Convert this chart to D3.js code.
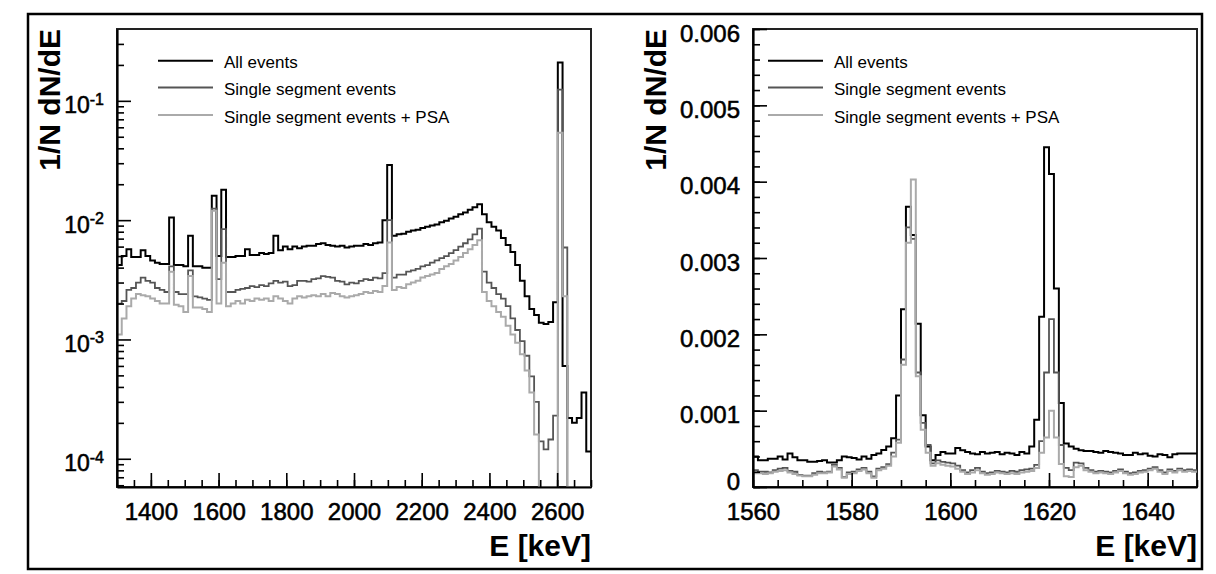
<!DOCTYPE html>
<html>
<head>
<meta charset="utf-8">
<script src="https://cdn.jsdelivr.net/npm/d3@7"></script>
<style>
body { margin: 0; background: #fff; }
svg text { font-family: "Liberation Sans", Arial, Helvetica, sans-serif; fill: #000; }
</style>
</head>
<body>
<script>
// ---- left panel: 100 bins of 14 keV from 1300 keV (log scale) ----
var leftBinStart = 1300, leftBinWidth = 14;
var allLeft = [
  4.2e-3, 5.0e-3, 5.7e-3, 4.9e-3, 4.9e-3, 5.6e-3, 5.0e-3, 4.6e-3, 4.4e-3, 4.3e-3,
  4.3e-3, 1.05e-2, 4.2e-3, 4.2e-3, 4.1e-3, 7.4e-3, 4.1e-3, 4.1e-3, 4.0e-3, 4.0e-3,
  1.6e-2, 5.0e-3, 1.8e-2, 4.9e-3, 4.9e-3, 5.0e-3, 5.0e-3, 5.7e-3, 5.1e-3, 5.1e-3,
  5.3e-3, 5.2e-3, 5.3e-3, 7.4e-3, 5.6e-3, 6.0e-3, 5.7e-3, 6.0e-3, 5.8e-3, 6.0e-3,
  6.1e-3, 6.1e-3, 6.3e-3, 6.4e-3, 6.2e-3, 6.1e-3, 6.0e-3, 6.1e-3, 5.9e-3, 6.0e-3,
  6.1e-3, 6.1e-3, 6.3e-3, 6.2e-3, 6.4e-3, 6.5e-3, 1.0e-2, 2.9e-2, 7.4e-3, 7.6e-3,
  7.7e-3, 8.0e-3, 8.2e-3, 8.3e-3, 8.6e-3, 8.8e-3, 9.0e-3, 9.2e-3, 9.6e-3, 9.9e-3,
  1.03e-2, 1.07e-2, 1.12e-2, 1.16e-2, 1.22e-2, 1.28e-2, 1.36e-2, 1.12e-2, 9.6e-3, 8.8e-3,
  8.2e-3, 7.1e-3, 6.2e-3, 5.4e-3, 4.2e-3, 3.1e-3, 2.3e-3, 1.8e-3, 1.6e-3, 1.38e-3,
  1.35e-3, 1.4e-3, 2.05e-3, 0.21, 6.0e-4, 2.2e-4, 2.0e-4, 2.2e-4, 3.6e-4, 1.15e-4
];
var singleLeft = [
  2.0e-3, 2.1e-3, 2.6e-3, 2.7e-3, 3.0e-3, 3.3e-3, 3.1e-3, 3.0e-3, 2.7e-3, 2.6e-3,
  2.5e-3, 4.1e-3, 2.5e-3, 2.4e-3, 2.4e-3, 3.8e-3, 2.3e-3, 2.25e-3, 2.2e-3, 2.15e-3,
  1.25e-2, 3.2e-3, 8.4e-3, 2.5e-3, 2.5e-3, 2.6e-3, 2.65e-3, 2.7e-3, 2.8e-3, 2.75e-3,
  2.85e-3, 2.8e-3, 2.95e-3, 3.1e-3, 3.0e-3, 3.05e-3, 2.8e-3, 2.85e-3, 3.1e-3, 3.1e-3,
  3.05e-3, 3.2e-3, 3.25e-3, 3.4e-3, 3.35e-3, 3.3e-3, 3.1e-3, 3.05e-3, 2.9e-3, 3.0e-3,
  2.95e-3, 3.1e-3, 3.2e-3, 3.15e-3, 3.3e-3, 3.25e-3, 3.6e-3, 1.0e-2, 3.3e-3, 3.5e-3,
  3.5e-3, 3.7e-3, 3.8e-3, 3.9e-3, 4.1e-3, 4.2e-3, 4.4e-3, 4.6e-3, 4.8e-3, 5.0e-3,
  5.3e-3, 5.6e-3, 6.0e-3, 6.4e-3, 6.9e-3, 7.6e-3, 8.5e-3, 3.7e-3, 3.0e-3, 2.7e-3,
  2.4e-3, 2.2e-3, 1.9e-3, 1.5e-3, 1.2e-3, 9.7e-4, 7.3e-4, 4.9e-4, 3.0e-4, 1.4e-4,
  1.2e-4, 1.45e-4, 2.3e-4, 0.124, 5.9e-3, 0, 0, 0, 0, 0
];
var psaLeft = [
  1.1e-3, 1.5e-3, 1.9e-3, 2.2e-3, 2.4e-3, 2.35e-3, 2.3e-3, 2.2e-3, 2.1e-3, 2.0e-3,
  2.0e-3, 3.7e-3, 1.95e-3, 1.9e-3, 1.7e-3, 3.4e-3, 1.85e-3, 1.85e-3, 1.8e-3, 1.7e-3,
  1.2e-2, 2.0e-3, 4.4e-3, 1.9e-3, 2.0e-3, 2.1e-3, 2.0e-3, 2.15e-3, 2.1e-3, 2.2e-3,
  2.15e-3, 2.2e-3, 2.1e-3, 2.3e-3, 2.2e-3, 2.1e-3, 2.0e-3, 2.2e-3, 2.3e-3, 2.25e-3,
  2.3e-3, 2.35e-3, 2.3e-3, 2.4e-3, 2.3e-3, 2.45e-3, 2.4e-3, 2.3e-3, 2.25e-3, 2.3e-3,
  2.35e-3, 2.4e-3, 2.5e-3, 2.45e-3, 2.55e-3, 2.5e-3, 2.8e-3, 6.5e-3, 2.6e-3, 2.75e-3,
  2.7e-3, 2.9e-3, 3.0e-3, 3.1e-3, 3.3e-3, 3.4e-3, 3.5e-3, 3.6e-3, 3.9e-3, 4.1e-3,
  4.3e-3, 4.6e-3, 4.9e-3, 5.3e-3, 5.7e-3, 6.2e-3, 6.8e-3, 2.5e-3, 2.1e-3, 1.9e-3,
  1.7e-3, 1.55e-3, 1.3e-3, 1.1e-3, 9.4e-4, 7.5e-4, 5.5e-4, 3.6e-4, 1.6e-4, 0,
  0, 0, 0, 0.054, 2.3e-3, 0, 0, 0, 0, 0
];

// ---- right panel: 90 bins of 1 keV from 1560 keV (linear scale) ----
var rightBinStart = 1560, rightBinWidth = 1;
var allRight = [
  4.0e-4, 3.5e-4, 3.5e-4, 3.7e-4, 3.7e-4, 4.0e-4, 3.6e-4, 4.4e-4, 3.9e-4, 3.5e-4,
  3.5e-4, 3.3e-4, 3.3e-4, 3.4e-4, 3.5e-4, 3.2e-4, 3.2e-4, 3.5e-4, 4.0e-4, 3.9e-4,
  3.8e-4, 3.6e-4, 4.0e-4, 3.7e-4, 4.2e-4, 4.4e-4, 4.85e-4, 5.3e-4, 6.4e-4, 1.2e-3,
  2.33e-3, 3.67e-3, 3.3e-3, 2.14e-3, 9.4e-4, 5.3e-4, 3.5e-4, 4.2e-4, 4.6e-4, 4.4e-4,
  4.4e-4, 5.1e-4, 4.8e-4, 4.6e-4, 4.4e-4, 4.3e-4, 4.6e-4, 4.4e-4, 4.5e-4, 4.6e-4,
  4.3e-4, 4.5e-4, 4.4e-4, 4.2e-4, 4.6e-4, 4.4e-4, 5.3e-4, 8.8e-4, 2.23e-3, 4.45e-3,
  4.1e-3, 2.6e-3, 1.1e-3, 5.7e-4, 5.3e-4, 5.0e-4, 4.8e-4, 4.7e-4, 4.7e-4, 4.6e-4,
  4.5e-4, 4.7e-4, 4.6e-4, 4.5e-4, 4.4e-4, 4.2e-4, 4.2e-4, 4.5e-4, 4.3e-4, 4.4e-4,
  4.1e-4, 4.0e-4, 4.3e-4, 4.2e-4, 3.9e-4, 4.3e-4, 4.4e-4, 4.4e-4, 4.4e-4, 4.4e-4
];
var singleRight = [
  2.2e-4, 2.0e-4, 2.0e-4, 1.9e-4, 2.2e-4, 2.4e-4, 2.5e-4, 2.1e-4, 2.0e-4, 1.6e-4,
  1.5e-4, 1.5e-4, 1.8e-4, 2.0e-4, 1.9e-4, 2.0e-4, 2.9e-4, 2.5e-4, 1.3e-4, 1.9e-4,
  2.0e-4, 2.3e-4, 2.5e-4, 2.0e-4, 1.4e-4, 2.4e-4, 2.6e-4, 3.0e-4, 4.5e-4, 6.2e-4,
  1.67e-3, 3.4e-3, 3.25e-3, 1.5e-3, 8.4e-4, 5.5e-4, 3.1e-4, 3.5e-4, 3.3e-4, 3.2e-4,
  3.1e-4, 2.8e-4, 2.2e-4, 1.9e-4, 2.2e-4, 2.5e-4, 2.0e-4, 1.8e-4, 1.9e-4, 2.1e-4,
  2.0e-4, 1.9e-4, 2.1e-4, 2.0e-4, 2.2e-4, 2.3e-4, 2.4e-4, 2.9e-4, 6.0e-4, 1.5e-3,
  2.2e-3, 1.5e-3, 5.5e-4, 2.5e-4, 2.2e-4, 3.2e-4, 3.1e-4, 2.5e-4, 2.2e-4, 2.0e-4,
  2.1e-4, 2.0e-4, 1.9e-4, 2.1e-4, 2.3e-4, 2.0e-4, 1.8e-4, 1.9e-4, 2.1e-4, 2.2e-4,
  2.4e-4, 2.6e-4, 2.2e-4, 1.9e-4, 2.3e-4, 2.1e-4, 2.4e-4, 2.2e-4, 2.3e-4, 2.2e-4
];
var psaRight = [
  1.8e-4, 1.8e-4, 1.7e-4, 1.8e-4, 2.0e-4, 2.1e-4, 2.2e-4, 1.9e-4, 1.7e-4, 1.5e-4,
  1.4e-4, 1.4e-4, 1.6e-4, 1.8e-4, 1.8e-4, 1.9e-4, 2.7e-4, 2.3e-4, 1.2e-4, 1.7e-4,
  1.8e-4, 2.1e-4, 2.3e-4, 1.8e-4, 1.2e-4, 2.2e-4, 2.4e-4, 2.8e-4, 4.0e-4, 5.8e-4,
  1.6e-3, 3.2e-3, 4.03e-3, 1.45e-3, 7.5e-4, 4.5e-4, 2.8e-4, 3.1e-4, 2.9e-4, 2.8e-4,
  2.7e-4, 2.4e-4, 2.0e-4, 1.7e-4, 1.9e-4, 2.2e-4, 1.8e-4, 1.6e-4, 1.7e-4, 1.9e-4,
  1.8e-4, 1.7e-4, 1.8e-4, 1.7e-4, 1.9e-4, 2.0e-4, 2.1e-4, 2.5e-4, 4.5e-4, 6.5e-4,
  1.0e-3, 6.5e-4, 3.0e-4, 1.4e-4, 1.3e-4, 2.6e-4, 2.8e-4, 2.2e-4, 2.0e-4, 1.8e-4,
  1.9e-4, 1.8e-4, 1.7e-4, 1.9e-4, 2.1e-4, 1.8e-4, 1.6e-4, 1.7e-4, 1.9e-4, 2.0e-4,
  2.2e-4, 2.4e-4, 2.0e-4, 1.7e-4, 2.1e-4, 1.9e-4, 2.2e-4, 2.0e-4, 2.1e-4, 2.0e-4
];

var legendLabels = ["All events", "Single segment events", "Single segment events + PSA"];
var seriesColors = ["#000000", "#555555", "#aaaaaa"];
var seriesWidths = [2, 1.8, 2];

var leftXTicks = [1400, 1600, 1800, 2000, 2200, 2400, 2600];
var leftYTicks = [1e-4, 1e-3, 1e-2, 1e-1];
var leftYExponents = ["-4", "-3", "-2", "-1"];
var rightXTicks = [1560, 1580, 1600, 1620, 1640];
var rightYTicks = [0, 0.001, 0.002, 0.003, 0.004, 0.005, 0.006];
var rightYLabels = ["0", "0.001", "0.002", "0.003", "0.004", "0.005", "0.006"];

var width = 1216, height = 574;
var svg = d3.select("body").append("svg")
    .attr("width", width)
    .attr("height", height);

// outer border
svg.append("rect")
    .attr("x", 28).attr("y", 14)
    .attr("width", 1174).attr("height", 555)
    .attr("fill", "none").attr("stroke", "#000").attr("stroke-width", 2.5);

function stepPoints(values, start, w) {
    var pts = values.map(function(v, i) { return {e: start + i * w, v: v}; });
    pts.push({e: start + values.length * w, v: values[values.length - 1]});
    return pts;
}

// tick labels look heavier than plain Arial in the scan
function heavy(sel) {
    sel.attr("stroke", "#000").attr("stroke-width", 0.55);
}

function drawPanel(p) {
    var g = svg.append("g");

    g.append("clipPath").attr("id", p.id + "_clip")
        .append("rect")
        .attr("x", p.left).attr("y", p.top - 1)
        .attr("width", p.right - p.left).attr("height", p.bottom - p.top + 1);

    // frame
    g.append("rect")
        .attr("x", p.left).attr("y", p.top)
        .attr("width", p.right - p.left).attr("height", p.bottom - p.top)
        .attr("fill", "none").attr("stroke", "#222").attr("stroke-width", 2);

    // histograms
    var line = d3.line()
        .curve(d3.curveStepAfter)
        .x(function(d) { return p.x(d.e); })
        .y(function(d) { return p.yv(d.v); });

    var plot = g.append("g").attr("clip-path", "url(#" + p.id + "_clip)");
    p.series.forEach(function(s, i) {
        plot.append("path")
            .datum(stepPoints(s, p.binStart, p.binWidth))
            .attr("d", line)
            .attr("fill", "none")
            .attr("stroke", seriesColors[i])
            .attr("stroke-width", seriesWidths[i])
            .attr("stroke-linejoin", "miter");
    });

    // x axis: minor then major ticks, pointing inward
    g.append("g")
        .attr("transform", "translate(0," + p.bottom + ")")
        .call(d3.axisBottom(p.x).tickValues(p.xMinor).tickSize(-7).tickSizeOuter(0).tickFormat(""))
        .call(function(a) { a.select(".domain").remove(); });
    var xa = g.append("g")
        .attr("transform", "translate(0," + p.bottom + ")")
        .call(d3.axisBottom(p.x).tickValues(p.xTicks).tickSize(-14).tickSizeOuter(0)
            .tickPadding(16).tickFormat(d3.format("d")));
    xa.selectAll("text").attr("font-size", 24).attr("font-family", null).call(heavy);

    // y axis
    g.append("g")
        .attr("transform", "translate(" + p.left + ",0)")
        .call(d3.axisLeft(p.y).tickValues(p.yMinor).tickSize(-7).tickSizeOuter(0).tickFormat(""))
        .call(function(a) { a.select(".domain").remove(); });
    var ya = g.append("g")
        .attr("transform", "translate(" + p.left + ",0)")
        .call(d3.axisLeft(p.y).tickValues(p.yTicks).tickSize(-14).tickSizeOuter(0)
            .tickPadding(13).tickFormat(p.yFormat ? p.yFormat : ""));
    ya.selectAll("text").attr("font-size", 24).attr("font-family", null)
        .attr("dy", function(d) { return d === 0 ? "0.1em" : "0.5em"; })
        .call(heavy);

    g.selectAll(".tick line").attr("stroke", "#000").attr("stroke-width", 1.6);
    g.selectAll(".domain").attr("stroke", "#000").attr("stroke-width", 2.2);

    // axis titles
    g.append("text")
        .attr("x", p.right).attr("y", 556)
        .attr("text-anchor", "end")
        .attr("font-size", 30).attr("font-weight", "bold")
        .text("E [keV]");
    g.append("text")
        .attr("transform", "translate(" + p.titleX + "," + p.top + ") rotate(-90)")
        .attr("text-anchor", "end")
        .attr("font-size", 30).attr("font-weight", "bold")
        .text("1/N dN/dE");

    // legend
    legendLabels.forEach(function(lab, i) {
        var ly = [60.7, 87.5, 115][i];
        g.append("line")
            .attr("x1", p.legendX).attr("x2", p.legendX + 55)
            .attr("y1", ly).attr("y2", ly)
            .attr("stroke", seriesColors[i]).attr("stroke-width", 2);
        g.append("text")
            .attr("x", p.legendX + 66).attr("y", ly + 7.5)
            .attr("font-size", 17)
            .text(lab);
    });
    return g;
}

// ---- left panel ----
var xL = d3.scaleLinear().domain([1300, 2700]).range([117, 591]);
var yL = d3.scaleLog().domain([5.8e-5, 0.4]).range([487, 29]).clamp(true);
var leftMinorY = [];
[-5, -4, -3, -2, -1].forEach(function(e) {
    for (var m = 2; m <= 9; m++) {
        var v = m * Math.pow(10, e);
        if (v > 5.8e-5 && v < 0.4) leftMinorY.push(v);
    }
});
var gl = drawPanel({
    id: "left", left: 117, right: 591, top: 29, bottom: 487,
    x: xL, y: yL,
    yv: function(v) { return yL(Math.max(v, 1e-7)); },
    series: [allLeft, singleLeft, psaLeft],
    binStart: leftBinStart, binWidth: leftBinWidth,
    xTicks: leftXTicks, xMinor: d3.range(1300, 2701, 50),
    yTicks: leftYTicks, yMinor: leftMinorY, yFormat: null,
    titleX: 60, legendX: 158
});
// log labels with superscript exponents
leftYTicks.forEach(function(v, i) {
    var t = gl.append("text")
        .attr("x", 104).attr("y", yL(v) + 12.6)
        .attr("text-anchor", "end")
        .call(heavy);
    t.append("tspan").attr("font-size", 23).text("10");
    t.append("tspan").attr("font-size", 16).attr("dy", -8.6).text(leftYExponents[i]);
});

// ---- right panel ----
var xR = d3.scaleLinear().domain([1560, 1650]).range([753, 1197]);
var yR = d3.scaleLinear().domain([0, 0.006]).range([487, 29]);
drawPanel({
    id: "right", left: 753, right: 1197, top: 29, bottom: 487,
    x: xR, y: yR,
    yv: function(v) { return yR(v); },
    series: [allRight, singleRight, psaRight],
    binStart: rightBinStart, binWidth: rightBinWidth,
    xTicks: rightXTicks, xMinor: d3.range(1560, 1651, 5),
    yTicks: rightYTicks, yMinor: d3.range(0, 0.00601, 0.0002),
    yFormat: function(d, i) { return rightYLabels[i]; },
    titleX: 666, legendX: 768
});
</script>
</body>
</html>
